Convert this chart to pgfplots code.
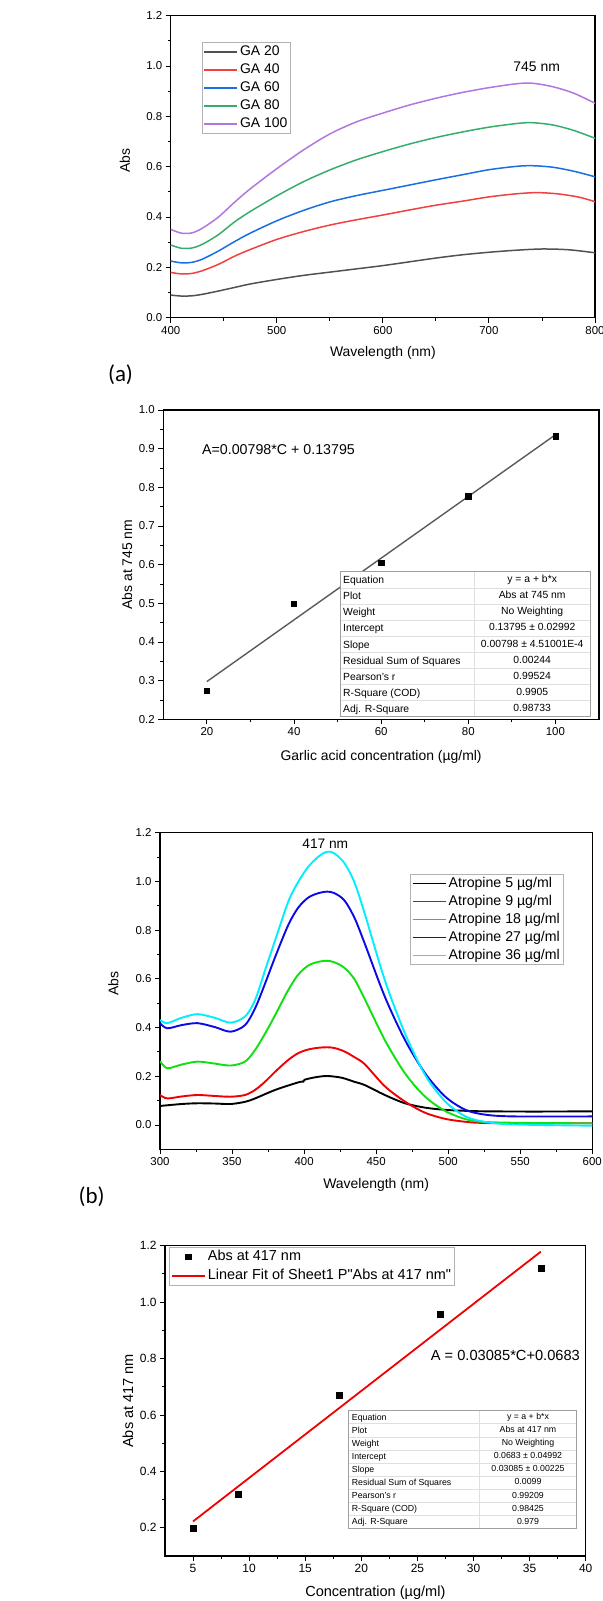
\documentclass[border=0pt]{standalone}
\usepackage{pgfplots}
\pgfplotsset{compat=1.18}
\usepackage{fontspec}
\setmainfont{Liberation Sans}
\newfontfamily\rawsans{Liberation Sans}[Ligatures=TeXOff]
\newfontfamily\calibri{Carlito}
\definecolor{oGray}{HTML}{515151}
\definecolor{oRed}{HTML}{F14040}
\definecolor{oBlue}{HTML}{1A6FDF}
\definecolor{oGreen}{HTML}{37AD6B}
\definecolor{oPurple}{HTML}{B177DE}
\definecolor{bBlack}{HTML}{000000}
\definecolor{bRed}{HTML}{F00000}
\definecolor{bGreen}{HTML}{10E010}
\definecolor{bBlue}{HTML}{0A0AE6}
\definecolor{bCyan}{HTML}{00EEFF}
\definecolor{fitGray}{HTML}{5A5A5A}
\pgfplotsset{
  myaxis/.style={scale only axis, anchor=north west, tick align=outside, tick pos=left,
    major tick length=5bp, minor tick length=3bp,
    tick style={black, line width=0.9bp},
    axis line style={line width=1.1bp},
    /pgf/number format/assume math mode=true,
    tick label style={font=\fontsize{11.5}{13}\selectfont},
    label style={font=\fontsize{14}{16}\selectfont},
    yticklabel style={/pgf/number format/.cd, fixed, fixed zerofill, precision=1},
  },
  mylegend/.style={legend style={draw=gray!60, line width=0.8bp, inner xsep=1.5bp, inner ysep=1bp,
    row sep=1.5bp, cells={anchor=west},
    nodes={inner xsep=2bp, inner ysep=1.5bp, text height=10.3bp, text depth=3.2bp}},
    legend image code/.code={\draw[##1] (0bp,0bp) -- (33bp,0bp);}},
  markleg/.style={legend image code/.code={\draw[mark repeat=2, mark phase=2, ##1] plot coordinates {(0bp,0bp) (16.5bp,0bp) (33bp,0bp)};}},
}
\begin{document}
\begin{tikzpicture}
\useasboundingbox (0,0) rectangle (603bp,-1601bp);
% ---------- Panel (a) spectra ----------
\begin{axis}[myaxis, mylegend, at={(170.7bp,-15.7bp)}, width=424.3bp, height=302bp,
  xmin=400, xmax=800, ymin=0, ymax=1.2,
  xtick={400,500,600,700,800}, ytick={0,0.2,0.4,0.6,0.8,1.0,1.2}, minor tick num=1,
  xlabel={Wavelength (nm)}, ylabel={Abs},
  xlabel style={at={(axis description cs:0.5,-0.117)}, anchor=center},
  ylabel style={at={(axis description cs:-0.108,0.52)}, anchor=center},
  legend style={at={(axis description cs:0.073,0.912)}, anchor=north west, font=\fontsize{14}{16}\selectfont},
]
\addplot[oGray, line width=1.5bp, smooth] coordinates {(400,0.090) (410,0.086) (420,0.087) (430,0.093) (445,0.106) (460,0.120) (475,0.134) (500,0.152) (525,0.168) (550,0.181) (575,0.194) (600,0.207) (625,0.222) (650,0.237) (675,0.250) (700,0.260) (725,0.268) (750,0.273) (775,0.270) (800,0.258)};
\addlegendentry{GA 20}
\addplot[oRed, line width=1.5bp, smooth] coordinates {(400,0.180) (410,0.174) (420,0.176) (430,0.187) (445,0.212) (460,0.244) (475,0.271) (500,0.311) (525,0.342) (550,0.368) (575,0.389) (600,0.408) (625,0.428) (650,0.447) (675,0.463) (700,0.480) (725,0.492) (745,0.497) (765,0.492) (785,0.479) (800,0.461)};
\addlegendentry{GA 40}
\addplot[oBlue, line width=1.5bp, smooth] coordinates {(400,0.225) (410,0.218) (420,0.220) (430,0.233) (445,0.265) (460,0.302) (475,0.336) (500,0.385) (525,0.426) (550,0.460) (575,0.485) (600,0.506) (625,0.527) (650,0.548) (675,0.568) (700,0.588) (725,0.601) (740,0.604) (760,0.598) (780,0.582) (800,0.560)};
\addlegendentry{GA 60}
\addplot[oGreen, line width=1.5bp, smooth] coordinates {(400,0.289) (410,0.276) (420,0.277) (430,0.292) (445,0.330) (460,0.380) (475,0.422) (500,0.484) (525,0.540) (550,0.587) (575,0.627) (600,0.660) (625,0.690) (650,0.716) (675,0.738) (700,0.757) (725,0.771) (740,0.775) (760,0.766) (780,0.744) (800,0.713)};
\addlegendentry{GA 80}
\addplot[oPurple, line width=1.5bp, smooth] coordinates {(400,0.351) (410,0.336) (420,0.337) (430,0.356) (445,0.400) (460,0.458) (475,0.512) (500,0.592) (525,0.666) (550,0.730) (575,0.778) (600,0.813) (625,0.845) (650,0.872) (675,0.895) (700,0.914) (725,0.929) (740,0.932) (760,0.918) (780,0.892) (800,0.852)};
\addlegendentry{GA 100}
\node[font=\fontsize{14}{16}\selectfont] at (axis cs:745,0.996) {745 nm};
\end{axis}
% ---------- Panel (a) calibration ----------
\begin{axis}[myaxis, at={(163.3bp,-410bp)}, width=435.7bp, height=309.3bp,
  xmin=10, xmax=110, ymin=0.2, ymax=1.0,
  xtick={20,40,60,80,100}, ytick={0.2,0.3,0.4,0.5,0.6,0.7,0.8,0.9,1.0}, minor tick num=1,
  xlabel={Garlic acid concentration (µg/ml)}, ylabel={Abs at 745 nm},
  xlabel style={at={(axis description cs:0.5,-0.121)}, anchor=center},
  ylabel style={at={(axis description cs:-0.083,0.5)}, anchor=center},
]
\addplot[fitGray, line width=1.4bp] coordinates {(20,0.2976) (100,0.93595)};
\addplot[only marks, mark=square*, mark size=2.6bp, black] coordinates {(20,0.273) (40,0.499) (60,0.605) (80,0.777) (100,0.932)};
\node[anchor=west, inner sep=0, font=\fontsize{14.3}{16}\selectfont] at (axis cs:18.85,0.897) {A=0.00798*C + 0.13795};
\end{axis}
% table
\begin{scope}[shift={(340bp,-571.7bp)}]
\fill[white] (0,0) rectangle (250bp,-145bp);
\foreach \i in {1,...,8} \draw[gray!25, line width=0.6bp] (0,{-\i*16.111bp}) -- (250bp,{-\i*16.111bp});
\draw[gray!25, line width=0.6bp] (134.3bp,0) -- (134.3bp,-145bp);
\draw[gray!75, line width=1bp] (0,0) rectangle (250bp,-145bp);
\foreach \a/\b [count=\i] in {Equation/{y = a + b*x}, Plot/{Abs at 745 nm}, Weight/{No Weighting}, Intercept/{0.13795 ± 0.02992}, Slope/{0.00798 ± 4.51001E-4}, {Residual Sum of Squares}/{0.00244}, {Pearson's r}/{0.99524}, {R-Square (COD)}/{0.9905}, {Adj. R-Square}/{0.98733}}
{\node[anchor=base west, inner sep=0, font=\fontsize{10.4}{12}\selectfont] at (3bp,{-(\i-0.5)*16.111bp-3.8bp}) {\a};
 \node[anchor=base, inner sep=0, font=\fontsize{10.4}{12}\selectfont] at (192.2bp,{-(\i-0.5)*16.111bp-2.8bp}) {\b};}
\end{scope}
\node[font=\calibri\fontsize{23}{26}\selectfont] at (120.5bp,-375bp) {(a)};
% ---------- Panel (b) spectra ----------
\begin{axis}[myaxis, mylegend, at={(160bp,-832.7bp)}, width=432.3bp, height=316.6bp,
  xmin=300, xmax=600, ymin=-0.1, ymax=1.2,
  xtick={300,350,400,450,500,550,600}, ytick={0,0.2,0.4,0.6,0.8,1.0,1.2}, minor tick num=1,
  tick label style={font=\fontsize{11.5}{13}\selectfont},
  xlabel={Wavelength (nm)}, ylabel={Abs},
  xlabel style={at={(axis description cs:0.5,-0.113)}, anchor=center},
  ylabel style={at={(axis description cs:-0.108,0.524)}, anchor=center},
  legend style={at={(axis description cs:0.578,0.870)}, anchor=north west, font=\fontsize{14.2}{16}\selectfont},
]
\addplot[bBlack, line width=1.9bp, smooth, tension=0.5] coordinates {(300,0.078) (315,0.086) (326,0.089) (338,0.088) (349,0.086) (359,0.095) (366,0.109) (380,0.144) (396,0.175) (399.5,0.178) (400.5,0.186) (408,0.196) (416,0.201) (426,0.194) (435,0.177) (442,0.164) (456,0.123) (470,0.089) (484,0.071) (498,0.062) (512,0.058) (526,0.056) (560,0.055) (600,0.056)};
\addlegendentry{Atropine 5 µg/ml}
\addplot[bRed, line width=1.9bp, smooth, tension=0.5] coordinates {(300,0.123) (305,0.109) (315,0.117) (326,0.123) (338,0.119) (349,0.116) (359,0.123) (366,0.144) (373,0.178) (380,0.219) (389,0.267) (396,0.295) (403,0.310) (410,0.317) (416,0.319) (421,0.316) (428,0.302) (435,0.278) (442,0.250) (456,0.159) (470,0.096) (484,0.050) (498,0.025) (512,0.013) (526,0.008) (560,0.007) (600,0.007)};
\addlegendentry{Atropine 9 µg/ml}
\addplot[bGreen, line width=1.9bp, smooth, tension=0.5] coordinates {(300,0.262) (305,0.233) (315,0.248) (326,0.260) (338,0.252) (349,0.244) (359,0.260) (366,0.308) (373,0.376) (380,0.452) (389,0.554) (396,0.618) (403,0.655) (410,0.670) (416,0.674) (421,0.668) (428,0.645) (435,0.598) (442,0.518) (456,0.349) (470,0.212) (484,0.116) (498,0.057) (512,0.024) (526,0.012) (560,0.008) (600,0.007)};
\addlegendentry{Atropine 18 µg/ml}
\addplot[bBlue, line width=1.9bp, smooth, tension=0.5] coordinates {(300,0.418) (305,0.397) (315,0.410) (326,0.418) (338,0.402) (349,0.383) (359,0.410) (366,0.479) (373,0.582) (380,0.691) (389,0.821) (396,0.893) (403,0.934) (410,0.952) (416,0.958) (421,0.952) (428,0.922) (435,0.850) (442,0.746) (456,0.527) (470,0.349) (484,0.212) (498,0.116) (512,0.062) (526,0.042) (546,0.035) (600,0.035)};
\addlegendentry{Atropine 27 µg/ml}
\addplot[bCyan, line width=1.9bp, smooth, tension=0.5] coordinates {(300,0.431) (305,0.418) (315,0.440) (326,0.455) (338,0.440) (349,0.420) (359,0.445) (366,0.513) (373,0.637) (380,0.760) (389,0.917) (396,0.999) (403,1.061) (410,1.102) (416,1.122) (421,1.115) (428,1.075) (435,0.995) (442,0.869) (456,0.595) (470,0.376) (484,0.205) (498,0.096) (512,0.035) (526,0.012) (546,0.002) (600,-0.003)};
\addlegendentry{Atropine 36 µg/ml}
\node[font=\fontsize{13.8}{16}\selectfont] at (axis cs:414.7,1.154) {417 nm};
\end{axis}
\node[font=\calibri\fontsize{23}{26}\selectfont] at (91.7bp,-1196.7bp) {(b)};
% ---------- Panel (b) calibration ----------
\begin{axis}[myaxis, mylegend, at={(165bp,-1245.7bp)}, width=420.7bp, height=310.3bp,
  xmin=2.5, xmax=40, ymin=0.1, ymax=1.2,
  xtick={5,10,15,20,25,30,35,40}, ytick={0.2,0.4,0.6,0.8,1.0,1.2}, minor tick num=1,
  tick label style={font=\fontsize{12}{14}\selectfont},
  label style={font=\fontsize{14.6}{17}\selectfont},
  xlabel={Concentration (µg/ml)}, ylabel={Abs at 417 nm},
  xlabel style={at={(axis description cs:0.5,-0.118)}, anchor=center},
  ylabel style={at={(axis description cs:-0.088,0.5)}, anchor=center},
  legend style={at={(axis description cs:0.010,0.995)}, anchor=north west, font=\fontsize{14.5}{17}\selectfont, row sep=2.5bp},
]
\addplot[only marks, mark=square*, mark size=2.9bp, black, markleg]
  coordinates {(5,0.200) (9,0.320) (18,0.671) (27,0.958) (36,1.121)};
\addlegendentry{Abs at 417 nm}
\addplot[bRed, line width=1.8bp] coordinates {(5,0.2226) (36,1.1789)};
\addlegendentry{Linear Fit of Sheet1 P{\rawsans"}Abs at 417 nm{\rawsans"}}
\node[anchor=east, inner sep=0, font=\fontsize{14.7}{17}\selectfont] at (axis cs:39.5,0.811) {A = 0.03085*C+0.0683};
\end{axis}
% table
\begin{scope}[shift={(348.7bp,-1410.7bp)}]
\fill[white] (0,0) rectangle (228bp,-117.6bp);
\foreach \i in {1,...,8} \draw[gray!25, line width=0.6bp] (0,{-\i*13.067bp}) -- (228bp,{-\i*13.067bp});
\draw[gray!25, line width=0.6bp] (130.6bp,0) -- (130.6bp,-117.6bp);
\draw[gray!75, line width=1bp] (0,0) rectangle (228bp,-117.6bp);
\foreach \a/\b [count=\i] in {Equation/{y = a + b*x}, Plot/{Abs at 417 nm}, Weight/{No Weighting}, Intercept/{0.0683 ± 0.04992}, Slope/{0.03085 ± 0.00225}, {Residual Sum of Squares}/{0.0099}, {Pearson's r}/{0.99209}, {R-Square (COD)}/{0.98425}, {Adj. R-Square}/{0.979}}
{\node[anchor=base west, inner sep=0, font=\fontsize{8.8}{10}\selectfont] at (3bp,{-(\i-0.5)*13.067bp-3.2bp}) {\a};
 \node[anchor=base, inner sep=0, font=\fontsize{8.8}{10}\selectfont] at (179.3bp,{-(\i-0.5)*13.067bp-2.4bp}) {\b};}
\end{scope}
\end{tikzpicture}
\end{document}
